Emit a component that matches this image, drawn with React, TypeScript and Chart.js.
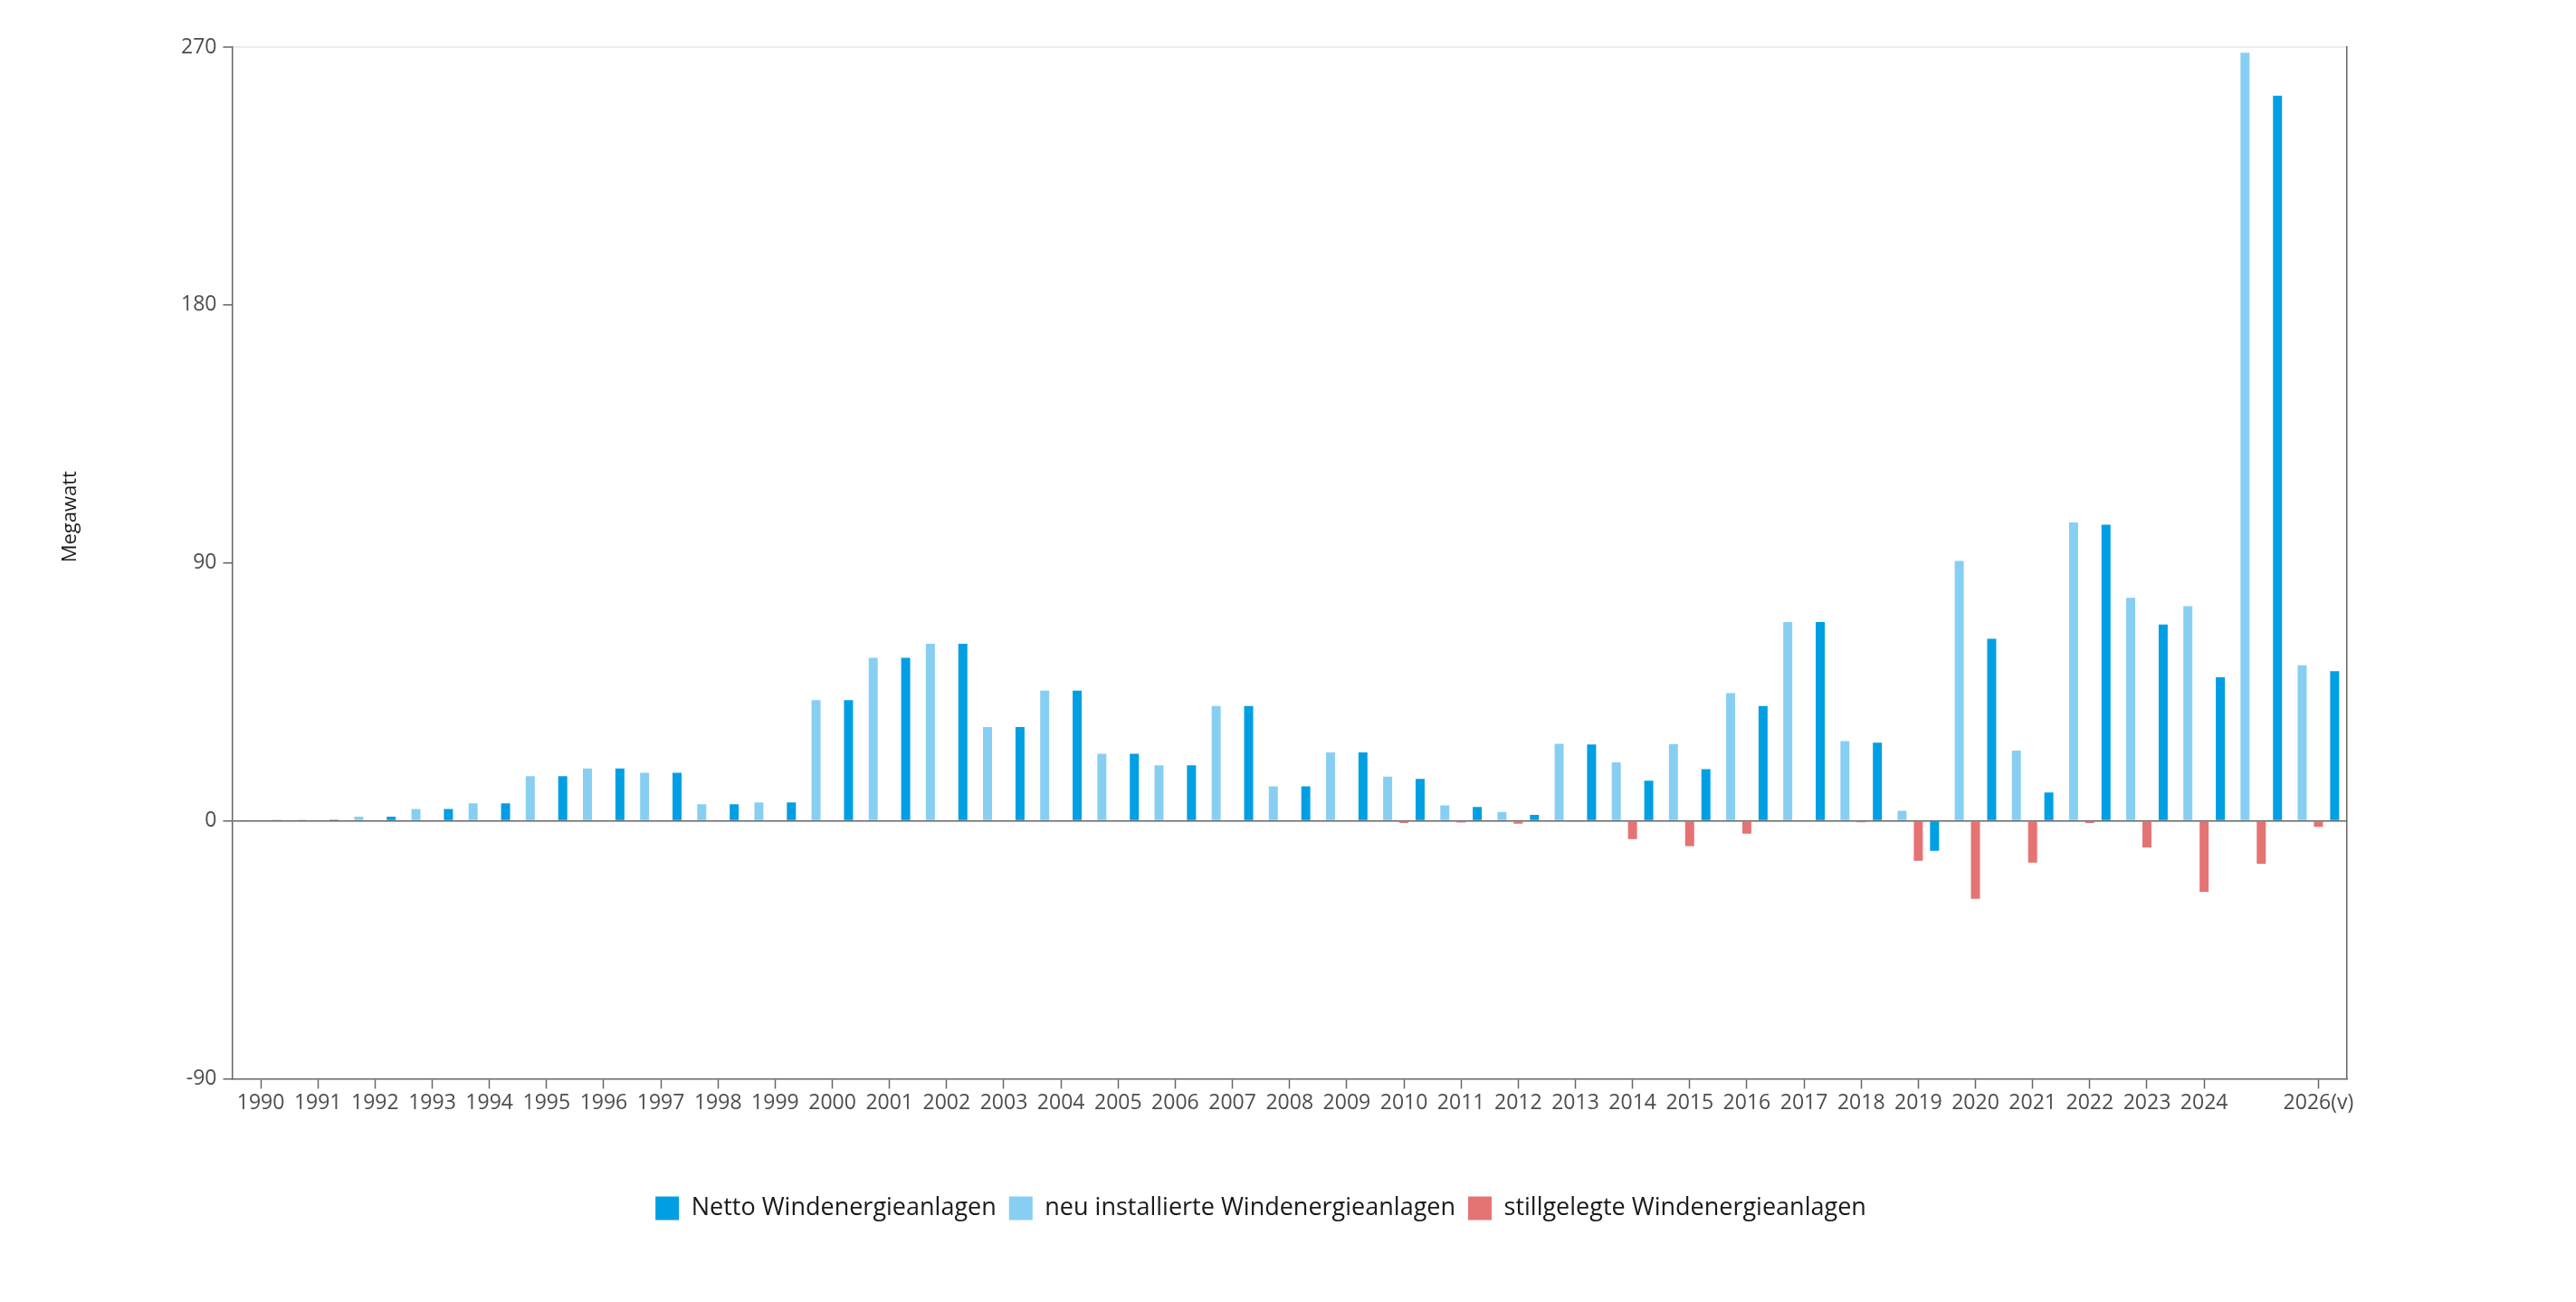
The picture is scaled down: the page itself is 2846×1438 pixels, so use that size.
import React, { useEffect, useRef } from "react";
import { Chart, registerables } from "chart.js";

Chart.register(...registerables);

const years: string[] = [
  "1990", "1991", "1992", "1993", "1994", "1995", "1996", "1997", "1998", "1999",
  "2000", "2001", "2002", "2003", "2004", "2005", "2006", "2007", "2008", "2009",
  "2010", "2011", "2012", "2013", "2014", "2015", "2016", "2017", "2018", "2019",
  "2020", "2021", "2022", "2023", "2024", "2025", "2026(v)",
];

const hiddenLabels: string[] = ["2025"];

const netto: number[] = [
  0.2, 0.4, 1.4, 4.1, 6.1, 15.6, 18.3, 16.8, 5.8, 6.4,
  42.1, 56.9, 61.8, 32.7, 45.4, 23.4, 19.4, 40.1, 12.0, 23.9,
  14.6, 4.8, 2.1, 26.6, 14.0, 18.0, 40.1, 69.4, 27.3, -10.5,
  63.5, 9.9, 103.3, 68.5, 50.1, 253, 52.2,
];

const neu: number[] = [
  0.2, 0.4, 1.4, 4.1, 6.1, 15.6, 18.3, 16.8, 5.8, 6.4,
  42.1, 56.9, 61.8, 32.7, 45.4, 23.4, 19.4, 40.1, 12.0, 23.9,
  15.4, 5.4, 3.1, 26.9, 20.4, 26.8, 44.6, 69.4, 27.8, 3.5,
  90.7, 24.5, 104.1, 77.8, 74.9, 268, 54.3,
];

const stillgelegt: number[] = [
  0, 0, 0, 0, 0, 0, 0, 0, 0, 0,
  0, 0, 0, 0, 0, 0, 0, 0, 0, 0,
  -0.8, -0.6, -1.0, -0.3, -6.4, -8.8, -4.5, 0, -0.5, -14.0,
  -27.2, -14.6, -0.8, -9.3, -24.8, -15.0, -2.1,
];

const yTicks: number[] = [-90, 0, 90, 180, 270];

const FONT = "'Open Sans', 'Noto Sans', sans-serif";
const AXIS = "#666666";

const yTitlePlugin = {
  id: "yTitle",
  afterDraw(chart: any) {
    const { ctx, chartArea } = chart;
    ctx.save();
    ctx.translate(chartArea.left - 179, (chartArea.top + chartArea.bottom) / 2 - 51);
    ctx.rotate(-Math.PI / 2);
    ctx.font = `22px ${FONT}`;
    ctx.fillStyle = "#1a1a1a";
    ctx.textAlign = "center";
    ctx.textBaseline = "middle";
    ctx.fillText("Megawatt", 0, 0);
    ctx.restore();
  },
};

export default function App() {
  const ref = useRef<HTMLCanvasElement | null>(null);

  useEffect(() => {
    if (!ref.current) return;
    const common = {
      categoryPercentage: 0.852,
      barPercentage: 0.556,
      borderWidth: 0,
    };
    const chart = new Chart(ref.current, {
      type: "bar",
      data: {
        labels: years,
        datasets: [
          { label: "Netto Windenergieanlagen", data: netto, backgroundColor: "#009FE3", order: 3, ...common },
          { label: "neu installierte Windenergieanlagen", data: neu, backgroundColor: "#87CFF2", order: 1, ...common },
          { label: "stillgelegte Windenergieanlagen", data: stillgelegt, backgroundColor: "#E57374", order: 2, ...common },
        ],
      },
      options: {
        animation: false,
        responsive: true,
        maintainAspectRatio: false,
        layout: { padding: { left: 185, right: 245, top: 44, bottom: 10 } },
        plugins: {
          tooltip: { enabled: false },
          legend: {
            position: "bottom",
            labels: {
              boxWidth: 26,
              boxHeight: 26,
              padding: 14,
              color: "#1a1a1a",
              font: { family: FONT, size: 27 },
              sort: (a: any, b: any) => a.datasetIndex - b.datasetIndex,
            },
          },
        },
        scales: {
          x: {
            offset: true,
            grid: {
              offset: false,
              drawOnChartArea: false,
              drawTicks: true,
              tickLength: 11,
              tickWidth: 1.5,
              tickColor: (c: any) => (c.tick && c.tick.label === "" ? "rgba(0,0,0,0)" : AXIS),
            },
            border: { display: true, color: AXIS, width: 1.5 },
            ticks: {
              autoSkip: false,
              maxRotation: 0,
              padding: 2,
              color: "#4d4d4d",
              font: { family: FONT, size: 23 },
              callback: function (this: any, value: any) {
                const l = this.getLabelForValue(value);
                return hiddenLabels.includes(l) ? "" : l;
              },
            },
            title: { display: true, text: "", font: { size: 1, lineHeight: 1 }, padding: { top: 72, bottom: 0 } },
          },
          y: {
            min: -90,
            max: 270,
            afterBuildTicks: (axis: any) => {
              axis.ticks = yTicks.map((v) => ({ value: v }));
            },
            grid: {
              drawOnChartArea: true,
              drawTicks: true,
              tickLength: 10,
              tickWidth: 1.5,
              tickColor: AXIS,
              color: (c: any) =>
                c.tick && c.tick.value === 0 ? AXIS : c.tick && c.tick.value === 270 ? "#eeeeee" : "rgba(0,0,0,0)",
              lineWidth: (c: any) => (c.tick && c.tick.value === 270 ? 2 : 1.5),
            },
            border: { display: true, color: AXIS, width: 1.5 },
            ticks: {
              padding: 7,
              color: "#4d4d4d",
              font: { family: FONT, size: 23 },
            },
          },
          y2: {
            position: "right",
            grid: { display: false, drawTicks: false },
            border: { display: true, color: AXIS, width: 1.5 },
            ticks: { display: false },
          },
        },
      },
      plugins: [yTitlePlugin],
    } as any);
    return () => chart.destroy();
  }, []);

  return (
    <div style={{ width: 2830, height: 1360, position: "relative" }}>
      <canvas ref={ref} />
    </div>
  );
}
